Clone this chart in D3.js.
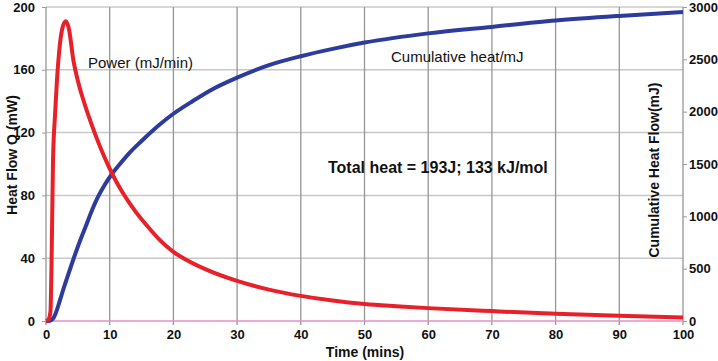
<!DOCTYPE html>
<html>
<head>
<meta charset="utf-8">
<script src="https://cdn.jsdelivr.net/npm/d3@7"></script>
<style>
body { margin: 0; background: #fff; }
svg { font-family: "Liberation Sans", Arial, sans-serif; }
</style>
</head>
<body>
<div id="chart-area"></div>
<script>
// power curve (mW) vs time (mins)
var powerTime = [0, 0.4, 0.7, 0.9, 1.1, 1.4, 1.7, 2.2, 2.6, 3.1, 3.6, 4.3, 5, 6, 7, 8, 9, 10, 11, 12, 14, 16, 18, 20, 22, 25, 30, 35, 40, 45, 50, 55, 60, 70, 80, 90, 100];
var powerValues = [0, 1, 6, 45, 102, 130, 152, 177, 187, 191, 186, 166, 153, 139, 127, 116, 106, 97, 89, 82, 70, 60, 51, 44, 39, 33, 25.5, 20, 16, 13, 10.8, 9.4, 8.2, 6.3, 4.6, 3.3, 2.3];

// cumulative heat (mJ) vs time (mins)
var heatTime = [0, 0.5, 1, 1.5, 2, 2.5, 3.3, 4.3, 5.3, 6.4, 7.3, 8.2, 9.2, 10.3, 11.6, 13, 15, 17.9, 20, 23, 26, 30, 35, 40, 45, 50, 60, 70, 80, 90, 100];
var heatValues = [0, 0, 15, 70, 160, 260, 410, 590, 760, 930, 1070, 1190, 1300, 1400, 1500, 1600, 1720, 1880, 1980, 2100, 2210, 2325, 2445, 2530, 2600, 2660, 2748, 2810, 2870, 2915, 2953];

var xTicks = [0, 10, 20, 30, 40, 50, 60, 70, 80, 90, 100];
var leftTicks = [0, 40, 80, 120, 160, 200];
var rightTicks = [0, 500, 1000, 1500, 2000, 2500, 3000];

var margin = { top: 7, left: 46 },
    width = 683 - margin.left,
    height = 321 - margin.top;

var svg = d3.select("#chart-area")
    .append("svg")
    .attr("width", 718)
    .attr("height", 361);

var g = svg.append("g")
    .attr("transform", "translate(" + margin.left + "," + margin.top + ")");

var x = d3.scaleLinear().domain([0, 100]).range([0, width]);
var y = d3.scaleLinear().domain([0, 200]).range([height, 0]);
var y2 = d3.scaleLinear().domain([0, 3000]).range([height, 0]);

// horizontal gridlines
g.selectAll(".hgrid")
    .data(leftTicks.filter(d => d > 0))
    .enter()
    .append("line")
    .attr("x1", 0)
    .attr("x2", width)
    .attr("y1", d => y(d))
    .attr("y2", d => y(d))
    .attr("stroke", "#c8c8c8")
    .attr("stroke-width", 1.5);

// vertical gridlines
g.selectAll(".vgrid")
    .data(xTicks)
    .enter()
    .append("line")
    .attr("x1", d => x(d))
    .attr("x2", d => x(d))
    .attr("y1", 0)
    .attr("y2", height + 4)
    .attr("stroke", "#969696")
    .attr("stroke-width", 1.3);

function styleTicks(sel) {
    sel.select(".domain").remove();
    sel.selectAll("line").attr("stroke", "#999");
    sel.selectAll("text")
        .attr("font-size", 13)
        .attr("font-weight", "bold")
        .attr("fill", "#111")
        .attr("font-family", "Liberation Sans, Arial, sans-serif");
}

// left axis
g.append("g")
    .call(d3.axisLeft(y).tickValues(leftTicks).tickSize(4).tickPadding(7))
    .call(styleTicks);

// right axis
g.append("g")
    .attr("transform", "translate(" + width + ",0)")
    .call(d3.axisRight(y2).tickValues(rightTicks).tickSize(4).tickPadding(2).tickFormat(d3.format("d")))
    .call(styleTicks);

// bottom axis
g.append("g")
    .attr("transform", "translate(0," + height + ")")
    .call(d3.axisBottom(x).tickValues(xTicks).tickSize(0).tickPadding(9))
    .call(styleTicks);

// pink baseline
g.append("line")
    .attr("x1", 0)
    .attr("x2", width)
    .attr("y1", y(0))
    .attr("y2", y(0))
    .attr("stroke", "#e48fc8")
    .attr("stroke-width", 1.5);

var powerLine = d3.line()
    .x((d, i) => x(powerTime[i]))
    .y(d => y(d))
    .curve(d3.curveMonotoneX);

var heatLine = d3.line()
    .x((d, i) => x(heatTime[i]))
    .y(d => y2(d))
    .curve(d3.curveMonotoneX);

g.append("path")
    .datum(heatValues)
    .attr("d", heatLine)
    .attr("fill", "none")
    .attr("stroke", "#2d3c9c")
    .attr("stroke-width", 4);

g.append("path")
    .datum(powerValues)
    .attr("d", powerLine)
    .attr("fill", "none")
    .attr("stroke", "#e8202a")
    .attr("stroke-width", 4);

// annotations
svg.append("text")
    .attr("x", 88)
    .attr("y", 68)
    .attr("font-size", 15)
    .attr("fill", "#111")
    .text("Power (mJ/min)");

svg.append("text")
    .attr("x", 391)
    .attr("y", 62)
    .attr("font-size", 15)
    .attr("fill", "#111")
    .text("Cumulative heat/mJ");

svg.append("text")
    .attr("x", 328)
    .attr("y", 173)
    .attr("font-size", 16)
    .attr("font-weight", "bold")
    .attr("fill", "#111")
    .text("Total heat = 193J; 133 kJ/mol");

// axis titles
svg.append("text")
    .attr("x", 365)
    .attr("y", 357)
    .attr("text-anchor", "middle")
    .attr("font-size", 14)
    .attr("font-weight", "bold")
    .attr("fill", "#111")
    .text("Time (mins)");

svg.append("text")
    .attr("transform", "translate(17,155) rotate(-90)")
    .attr("text-anchor", "middle")
    .attr("font-size", 14)
    .attr("font-weight", "bold")
    .attr("fill", "#111")
    .text("Heat Flow Q (mW)");

svg.append("text")
    .attr("transform", "translate(659,170) rotate(-90)")
    .attr("text-anchor", "middle")
    .attr("font-size", 14)
    .attr("font-weight", "bold")
    .attr("fill", "#111")
    .text("Cumulative Heat Flow(mJ)");
</script>
</body>
</html>
